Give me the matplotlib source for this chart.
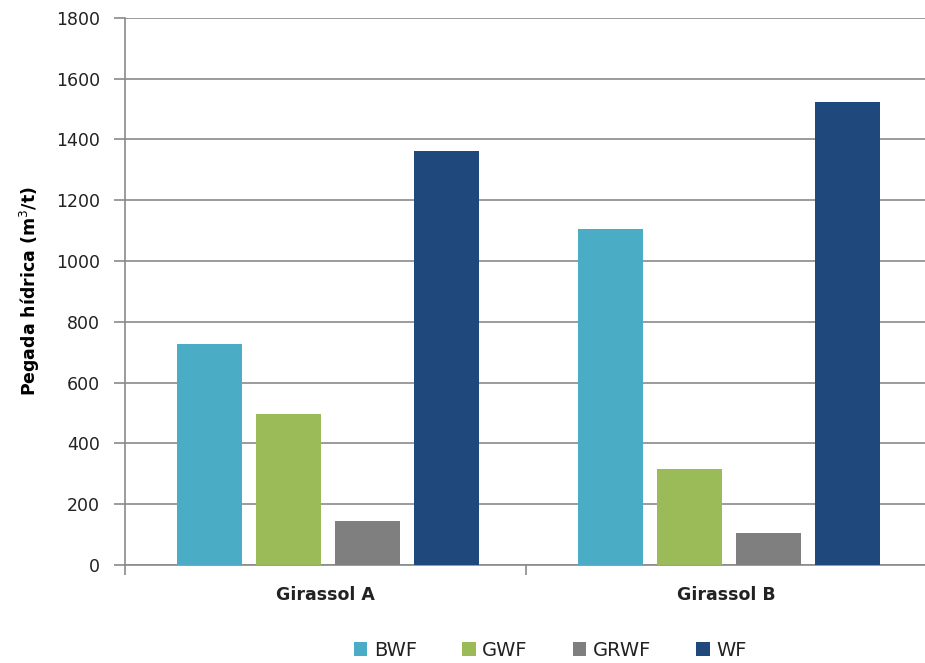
import matplotlib
matplotlib.use("Agg")
import matplotlib.pyplot as plt
import numpy as np

categories = ["Girassol A", "Girassol B"]
series_names = ["BWF", "GWF", "GRWF", "WF"]
bwf = [727, 1105]
gwf = [496, 315]
grwf = [146, 105]
wf = [1363, 1523]
yticks = [0, 200, 400, 600, 800, 1000, 1200, 1400, 1600, 1800]

colors = ["#4BACC6", "#9BBB59", "#7F7F7F", "#1F497D"]
values = [bwf, gwf, grwf, wf]

fig = plt.figure(figsize=(9.25, 6.63), dpi=100)
ax = fig.add_axes([0.135, 0.148, 0.867, 0.825])

x = np.arange(len(categories))
slot = 0.1975
width = 0.162
for i, (name, vals, c) in enumerate(zip(series_names, values, colors)):
    ax.bar(x + (i - 1.5) * slot + 0.007, vals, width=width, color=c, label=name, zorder=3)

ax.set_xlim(-0.5, len(categories) - 0.5)
ax.set_ylim(0, 1800)
ax.set_yticks(yticks)
ax.set_yticklabels([str(v) for v in yticks], fontsize=12.5, color="#222222")
ax.yaxis.grid(True, color="#8a8a8a", linewidth=1.2, zorder=0)
ax.set_axisbelow(True)

ax.set_xticks(x)
ax.set_xticklabels(categories, fontsize=12.5, fontweight="bold", color="#222222")
ax.tick_params(axis="x", length=0, pad=15)
ax.set_xticks([-0.5, 0.5, 1.5], minor=True)
ax.tick_params(axis="x", which="minor", length=7, color="#8a8a8a", width=1.2)
ax.tick_params(axis="y", length=8, color="#8a8a8a", width=1.2, pad=10)

for s in ["top", "right"]:
    ax.spines[s].set_visible(False)
for s in ["left", "bottom"]:
    ax.spines[s].set_color("#8a8a8a")
    ax.spines[s].set_linewidth(1.2)

ax.set_ylabel("Pegada hídrica (m$^3$/t)", fontsize=12.5, fontweight="bold", labelpad=10)

leg = fig.legend(loc="lower center", bbox_to_anchor=(0.595, -0.022), ncol=4, frameon=False,
                 fontsize=14, handlelength=0.7, handleheight=0.7, handletextpad=0.35,
                 columnspacing=2.3, labelcolor="#222222")

fig.savefig("out.png", dpi=100)
